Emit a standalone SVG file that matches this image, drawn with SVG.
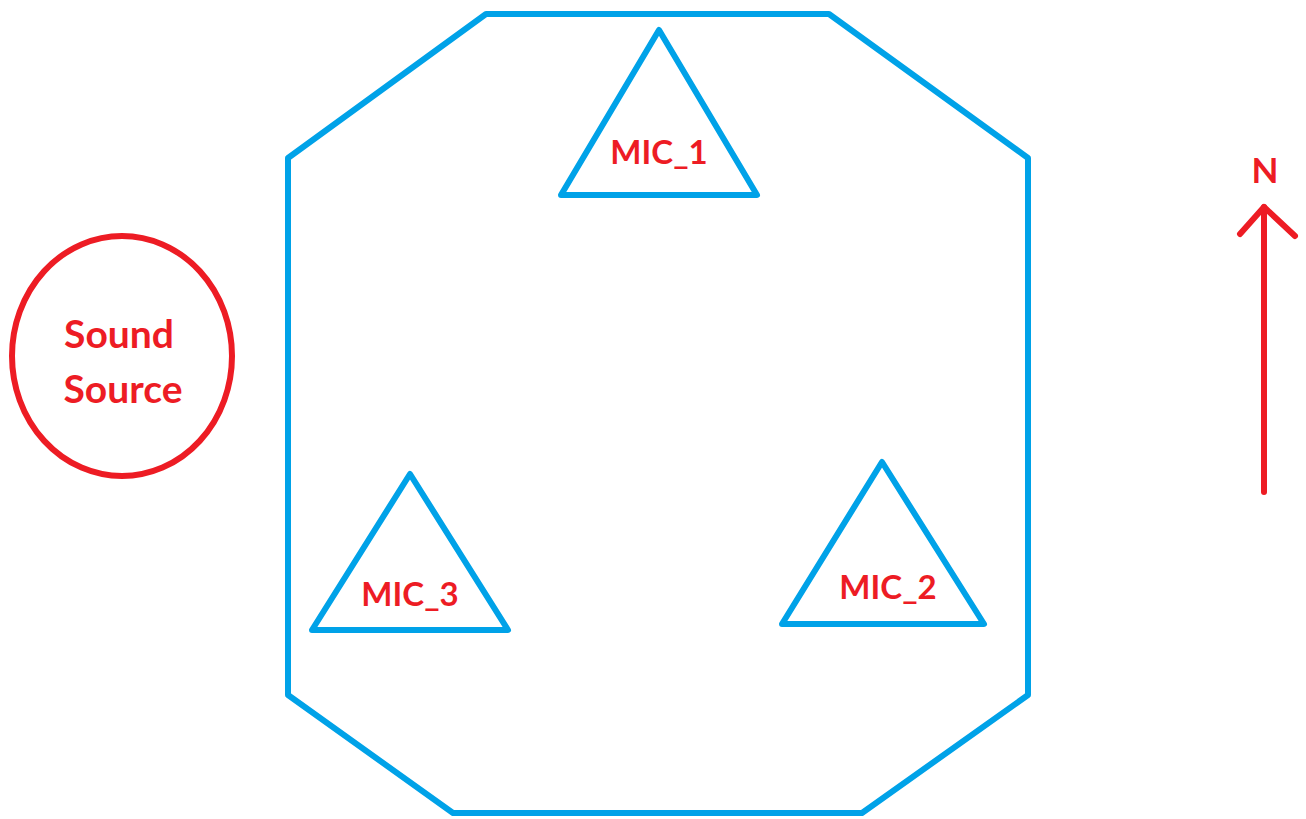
<svg xmlns="http://www.w3.org/2000/svg" width="1306" height="819" viewBox="0 0 1306 819">
<style>
.blue{fill:none;stroke:#00A2E8;stroke-width:6;stroke-linejoin:round;stroke-linecap:round}
.red{fill:none;stroke:#ED1C24;stroke-width:6;stroke-linecap:round;stroke-linejoin:round}
.lbl{fill:#ED1C24;font-family:Lato,"Open Sans",sans-serif;font-weight:bold;text-anchor:middle}
</style>
<rect width="1306" height="819" fill="#fff"/>
<g id="room"><polygon class="blue" points="486,14 829,14 1028,158 1028,695 862,813 453,813 288,695 288,158"/></g>
<g id="mic1"><polygon class="blue" points="659,30 757,195 561,195"/><text class="lbl" x="659" y="164" font-size="33">MIC_1</text></g>
<g id="mic2"><polygon class="blue" points="882,462 984,624 782,624"/><text class="lbl" x="888" y="599" font-size="33">MIC_2</text></g>
<g id="mic3"><polygon class="blue" points="410,474 508,630 312,630"/><text class="lbl" x="410" y="606" font-size="33">MIC_3</text></g>
<g id="source"><ellipse class="red" cx="122" cy="356" rx="110" ry="120"/><text class="lbl" x="119" y="348" font-size="39">Sound</text><text class="lbl" x="123" y="403" font-size="39">Source</text></g>
<g id="north"><text class="lbl" x="1265" y="183" font-size="35">N</text></g>
<g id="connectors"><line class="red" x1="1264" y1="492" x2="1264" y2="207"/><polyline class="red" points="1240,234 1264,207 1295,236"/></g>
</svg>
